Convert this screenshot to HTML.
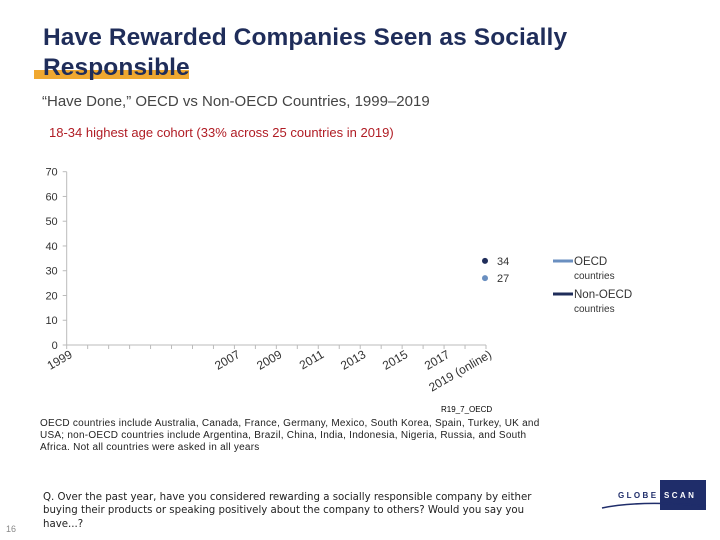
<!DOCTYPE html>
<html><head><meta charset="utf-8"><style>
body{margin:0;width:720px;height:540px;background:#fff;position:relative;overflow:hidden;font-family:"Liberation Sans",sans-serif}
.abs{position:absolute;margin:0}
</style></head><body>
<div class="abs" style="left:34px;top:70px;width:155px;height:9px;background:#f0a830"></div>
<h1 class="abs" style="left:43px;top:23px;font-family:'Liberation Sans',sans-serif;font-size:24.5px;font-weight:bold;color:#1f2d5a;line-height:30px;letter-spacing:0.1px">Have Rewarded Companies Seen as Socially<br>Responsible</h1>
<div class="abs" style="left:42px;top:93px;font-size:15px;color:#444">“Have Done,” OECD vs Non-OECD Countries, 1999–2019</div>
<div class="abs" style="left:49px;top:125px;font-size:13px;color:#b01c24">18-34 highest age cohort (33% across 25 countries in 2019)</div>

<svg class="abs" style="left:0;top:0" width="720" height="540" id="chart"></svg>

<div class="abs" style="left:441px;top:405px;font-size:8px;color:#000">R19_7_OECD</div>
<div class="abs" style="left:40px;top:418px;width:505px;font-size:10px;line-height:12px;color:#222;letter-spacing:0.25px">OECD countries include Australia, Canada, France, Germany, Mexico, South Korea, Spain, Turkey, UK and USA; non-OECD countries include Argentina, Brazil, China, India, Indonesia, Nigeria, Russia, and South Africa. Not all countries were asked in all years</div>
<div class="abs" style="left:43px;top:491px;width:510px;font-family:'DejaVu Sans',sans-serif;font-size:10.2px;line-height:13.3px;color:#222">Q. Over the past year, have you considered rewarding a socially responsible company by either buying their products or speaking positively about the company to others? Would you say you have...?</div>
<div class="abs" style="left:6px;top:524px;font-size:9px;color:#888">16</div>

<div class="abs" style="left:600px;top:480px;width:110px;height:32px">
<div style="position:absolute;left:60px;top:0;width:46px;height:30px;background:#1f2d6a"></div>
<svg style="position:absolute;left:0;top:0" width="110" height="32"><path d="M2 28 Q40 20 106 26" stroke="#1f2d6a" stroke-width="1.5" fill="none"/></svg>
<div style="position:absolute;left:18px;top:11px;font-size:8px;font-weight:bold;letter-spacing:2.4px;color:#1f2d6a;white-space:nowrap">GLOBE</div>
<div style="position:absolute;left:64px;top:11px;font-size:8px;font-weight:bold;letter-spacing:2.4px;color:#fff;white-space:nowrap">SCAN</div>
</div>

<script>
const years=[1999,2000,2001,2002,2003,2004,2005,2006,2007,2008,2009,2010,2011,2012,2013,2014,2015,2016,2017,2018,2019];
const tickLabels=["1999","","","","","","","","2007","","2009","","2011","","2013","","2015","","2017","","2019 (online)"];
const yTicks=[0,10,20,30,40,50,60,70];
const oecdValues=[null,null,null,null,null,null,null,null,null,null,null,null,null,null,null,null,null,null,null,null,27];
const nonOecdValues=[null,null,null,null,null,null,null,null,null,null,null,null,null,null,null,null,null,null,null,null,34];
const svg=document.getElementById('chart');const NS='http://www.w3.org/2000/svg';
const x0=66.7,x1=486,y0=345,yTop=171.7;
const xs=i=>x0+(x1-x0)*i/(years.length-1);
const ys=v=>y0-(y0-yTop)*v/70;
function mk(t,a){const e=document.createElementNS(NS,t);for(const k in a)e.setAttribute(k,a[k]);svg.appendChild(e);return e;}
let ax=mk('line',{x1:x0,y1:yTop,x2:x0,y2:y0,stroke:'#bbb'});


let bx=mk('line',{x1:x0,y1:y0,x2:x1,y2:y0,stroke:'#bbb'});


yTicks.forEach(v=>{mk('line',{x1:x0-4,x2:x0,y1:ys(v),y2:ys(v),stroke:'#bbb'});
const t=mk('text',{x:x0-9,y:ys(v)+4,'text-anchor':'end','font-size':11,fill:'#333','font-family':'Liberation Sans'});t.textContent=v;

});
years.forEach((y,i)=>{mk('line',{x1:xs(i),x2:xs(i),y1:y0,y2:y0+4,stroke:'#bbb'});
if(tickLabels[i]){const X=xs(i)+2,Y=y0+4;const t=mk('text',{x:X,y:Y,'text-anchor':'end','font-size':12,fill:'#333','font-family':'Liberation Sans',transform:`rotate(-30 ${X} ${Y})`,dy:9});t.textContent=tickLabels[i];

}});
function series(vals,color,name){vals.forEach((v,i)=>{if(v==null)return;
const c=mk('circle',{cx:xs(i)-1,cy:ys(v),r:3,fill:color});


const t=mk('text',{x:xs(i)+11,y:ys(v)+4,'font-size':11,fill:'#333','font-family':'Liberation Sans'});t.textContent=v;

});}
series(nonOecdValues,'#1f2d5a','non-oecd');
series(oecdValues,'#6a8fc0','oecd');
function leg(y,color,l1,name){const l=mk('line',{x1:553,x2:573,y1:y,y2:y,stroke:color,'stroke-width':3});


const t=mk('text',{x:574,y:y+4,'font-size':11.5,fill:'#333','font-family':'Liberation Sans'});t.textContent=l1;


const t2=mk('text',{x:574,y:y+18,'font-size':10,fill:'#333','font-family':'Liberation Sans'});t2.textContent='countries';}
leg(261,'#6a8fc0','OECD','oecd');
leg(294,'#1f2d5a','Non-OECD','non-oecd');
</script>
</body></html>
